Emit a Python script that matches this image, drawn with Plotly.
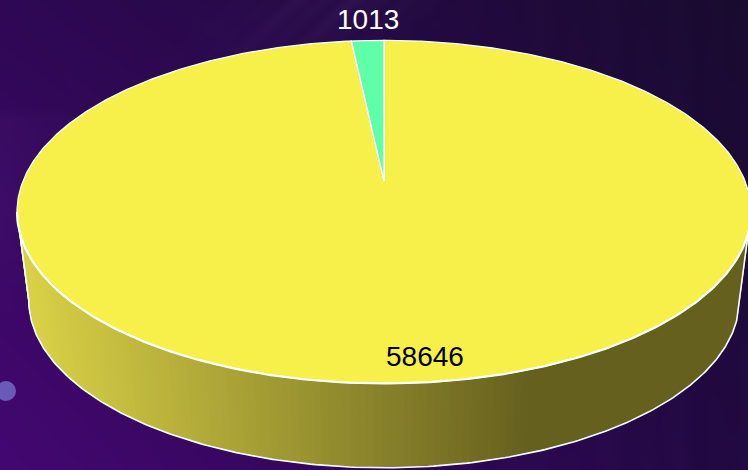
import base64, struct, zlib
import numpy as np
import plotly.graph_objects as go

# ---- data ----
VALUES = [58646, 1013]
LABELS = ["58646", "1013"]
COLORS = ["#F8F04A", "#5FFFAA"]
LABEL_COLORS = ["#000000", "#FFFFFF"]
LABEL_XY = [(425, 356.3), (368, 19.5)]

W, H = 748, 470
# projective pie geometry
CX, APEX_TOP, APEX_BOT = 384.0, 181.0, 270.0
A, B, K = 361.0, 166.0, 0.18
SCALE_BOT_X, SCALE_BOT_Y = 0.968, 0.977


def project(theta_deg, apex, sx=1.0, sy=1.0):
    t = np.radians(np.asarray(theta_deg, dtype=float))
    u, v = np.sin(t), np.cos(t)
    d = 1 + K * v
    return CX + sx * A * u / d, apex - sy * B * v / d


def background_uri():
    yy, xx = np.mgrid[0:H, 0:W]
    fx, fy = xx / (W - 1), yy / (H - 1)
    tl, tr = np.array([47, 8, 85.]), np.array([24, 10, 46.])
    bl, br = np.array([68, 7, 114.]), np.array([32, 8, 64.])
    img = np.zeros((H, W, 3))
    for c in range(3):
        img[..., c] = (tl[c] * (1 - fx) + tr[c] * fx) * (1 - fy) + (bl[c] * (1 - fx) + br[c] * fx) * fy
    # soft diagonal sheen and vertical streaks of the backdrop
    d = (xx + yy * 1.1 - 340) / 85.0
    fine = 0.65 + 0.35 * np.sin((xx + yy * 1.1) / 6.1) * np.sin((xx + yy * 1.1) / 17.0)
    sheen = np.exp(-d ** 2) * np.clip(1 - yy / 120.0, 0, 1) * fine
    streak = (0.5 + 0.5 * np.sin(xx / 7.3) * np.sin(xx / 23.0)) * np.clip((xx - 390) / 200.0, 0, 1) * 3
    band = np.clip((yy - 108) / 10.0, 0, 1) * np.clip(1 - xx / 110.0, 0, 1) * np.clip((330 - yy) / 120.0, 0, 1) * 6
    img += (sheen * 12 + streak + band)[..., None] * np.array([0.8, 0.8, 1.0])
    img = np.clip(img, 0, 255).astype(np.uint8)
    raw = b"".join(b"\x00" + img[r].tobytes() for r in range(H))

    def chunk(tag, data):
        return struct.pack(">I", len(data)) + tag + data + struct.pack(">I", zlib.crc32(tag + data) & 0xffffffff)

    png = b"\x89PNG\r\n\x1a\n" + chunk(b"IHDR", struct.pack(">IIBBBBB", W, H, 8, 2, 0, 0, 0)) \
        + chunk(b"IDAT", zlib.compress(raw, 9)) + chunk(b"IEND", b"")
    return "data:image/png;base64," + base64.b64encode(png).decode()


def wall_color(x):
    t = np.clip((x - 30) / 500.0, 0, 1)
    hi, lo = np.array([216, 208, 70]), np.array([102, 96, 31])
    c = hi + (lo - hi) * t
    return "rgb(%d,%d,%d)" % tuple(c.round().astype(int))


fig = go.Figure()

# side wall, coloured strip by strip
edge = np.degrees(np.arccos(-K))
steps = np.arange(edge, 360 - edge, 1.0)
steps = np.append(steps, 360 - edge)
for a0, a1 in zip(steps[:-1], steps[1:]):
    th = np.linspace(a0, min(a1 + 1.0, 360 - edge), 4)
    xt, yt = project(th, APEX_TOP)
    xb, yb = project(th[::-1], APEX_BOT, SCALE_BOT_X, SCALE_BOT_Y)
    mid = project((a0 + a1) / 2, APEX_TOP)[0]
    fig.add_trace(go.Scatter(x=np.r_[xt, xb], y=np.r_[yt, yb], mode="lines", fill="toself",
                             fillcolor=wall_color(mid), line=dict(width=0), hoverinfo="skip", showlegend=False))

# wall outline
th = np.linspace(edge, 360 - edge, 241)
xb, yb = project(th, APEX_BOT, SCALE_BOT_X, SCALE_BOT_Y)
xl, yl = project([edge], APEX_TOP)
xr, yr = project([360 - edge], APEX_TOP)
fig.add_trace(go.Scatter(x=np.r_[xl, xb, xr], y=np.r_[yl, yb, yr], mode="lines",
                         line=dict(color="#FFFFFF", width=1.6), hoverinfo="skip", showlegend=False))

# top face slices
total = float(sum(VALUES))
start = 0.0
for val, col in zip(VALUES, COLORS):
    sweep = 360.0 * val / total
    th = np.linspace(start, start + sweep, max(8, int(sweep * 2)))
    x, y = project(th, APEX_TOP)
    fig.add_trace(go.Scatter(x=np.r_[CX, x, CX], y=np.r_[APEX_TOP, y, APEX_TOP], mode="lines", fill="toself",
                             fillcolor=col, line=dict(color="#FFFFFF", width=1.3), hoverinfo="skip",
                             showlegend=False))
    start += sweep

# heavier rim along the front of the top face
th = np.linspace(edge, 360 - edge, 241)
xf, yf = project(th, APEX_TOP)
fig.add_trace(go.Scatter(x=xf, y=yf, mode="lines", line=dict(color="#FFFFFF", width=2.2),
                         hoverinfo="skip", showlegend=False))

# small backdrop dot
fig.add_trace(go.Scatter(x=[6], y=[391], mode="markers", hoverinfo="skip", showlegend=False,
                         marker=dict(size=20, color="#6A5AB8", line=dict(width=0))))

for txt, col, (lx, ly) in zip(LABELS, LABEL_COLORS, LABEL_XY):
    fig.add_annotation(x=lx, y=ly, text=txt, showarrow=False, xref="x", yref="y",
                       font=dict(family="Liberation Sans, Arial, sans-serif", size=28, color=col))

fig.update_layout(
    width=W, height=H, margin=dict(l=0, r=0, t=0, b=0), showlegend=False,
    paper_bgcolor="#2A0A50", plot_bgcolor="rgba(0,0,0,0)",
    xaxis=dict(range=[0, W], visible=False, fixedrange=True),
    yaxis=dict(range=[H, 0], visible=False, fixedrange=True),
    images=[dict(source=background_uri(), xref="x", yref="y", x=0, y=0, sizex=W, sizey=H,
                 sizing="stretch", xanchor="left", yanchor="top", layer="below")],
)
fig.write_html("out.html", config=dict(displayModeBar=False),
               post_script="document.body.style.margin='0';document.body.style.overflow='hidden';")
